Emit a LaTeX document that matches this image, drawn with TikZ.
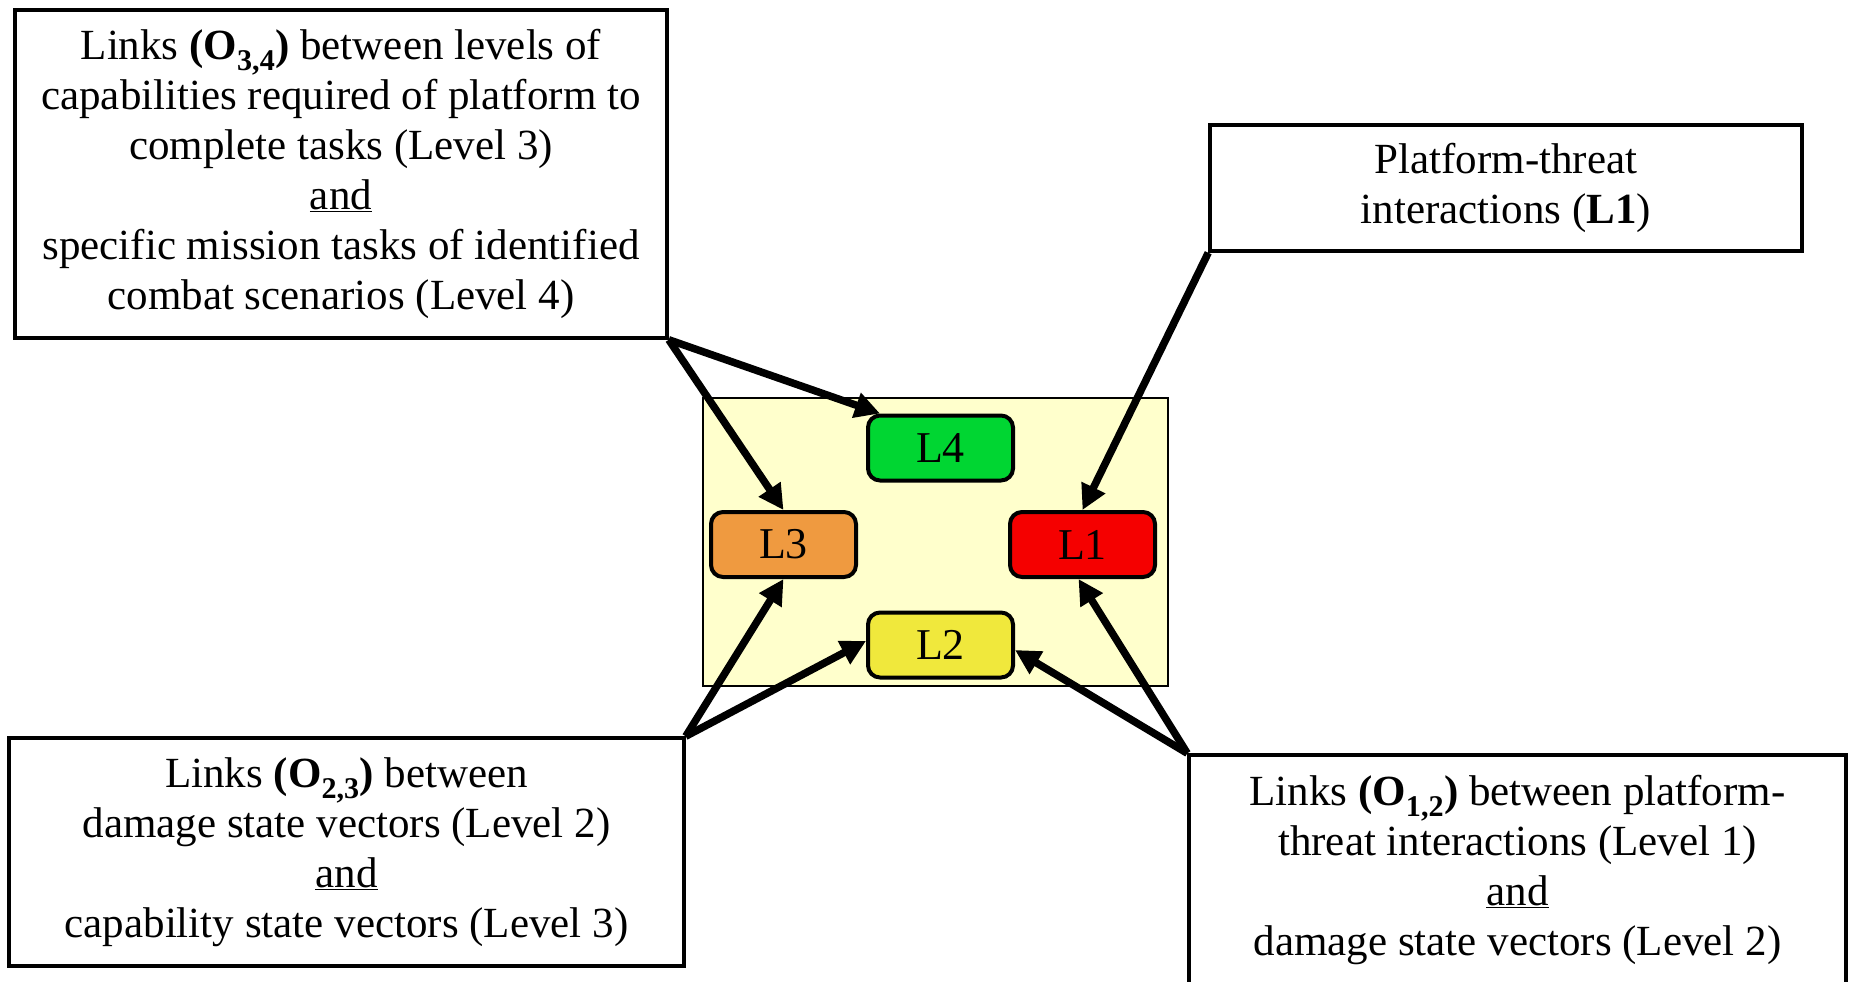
\documentclass[tikz,border=0pt]{standalone}
\usepackage{fontspec}
\setmainfont{Liberation Serif}
\usetikzlibrary{arrows.meta,calc}
\definecolor{bgyellow}{RGB}{255,255,204}
\definecolor{lvgreen}{RGB}{0,214,50}
\definecolor{lvorange}{RGB}{239,154,64}
\definecolor{lvred}{RGB}{245,0,0}
\definecolor{lvyellow}{RGB}{240,232,60}
\begin{document}
\begin{tikzpicture}[x=1pt,y=-1pt,
  txtbox/.style={draw, line width=3.5pt, align=center, inner sep=0pt,
    font=\fontsize{43}{50}\selectfont},
  lvl/.style={draw, line width=4pt, rounded corners=12pt, minimum width=145pt,
    minimum height=65pt, inner sep=0pt, font=\fontsize{44}{50}\selectfont},
  link/.style={line width=7.5pt, -{Triangle[length=25pt,width=25pt]}}]
\useasboundingbox (0,0) rectangle (1849,982);
\clip (0,0) rectangle (1849,982);

% background panel
\node[draw, line width=1.5pt, fill=bgyellow, minimum width=465pt, minimum height=288pt, inner sep=0pt] (bg) at (935.5,542) {};

% level boxes
\node[lvl, fill=lvgreen]  (L4) at (940.5,448)   {L4};
\node[lvl, fill=lvorange] (L3) at (783.5,544.5) {L3};
\node[lvl, fill=lvred]    (L1) at (1082.5,544.5) {L1};
\node[lvl, fill=lvyellow] (L2) at (940.5,645)   {L2};

% text boxes
\node[txtbox, minimum width=652pt, minimum height=328pt] (tl) at (341,174) {%
Links \textbf{(O\textsubscript{3,4})} between levels of\\
capabilities required of platform to\\
complete tasks (Level 3)\\
\underline{and}\\
specific mission tasks of identified\\
combat scenarios (Level 4)};

\node[txtbox, minimum width=592pt, minimum height=126pt] (tr) at (1506,188) {%
Platform-threat\\
interactions (\textbf{L1})};

\node[txtbox, minimum width=675pt, minimum height=228pt] (bl) at (346.5,852) {%
Links \textbf{(O\textsubscript{2,3})} between\\
damage state vectors (Level 2)\\
\underline{and}\\
capability state vectors (Level 3)};

\node[txtbox, minimum width=657pt, minimum height=230pt] (br) at (1517.5,870) {%
Links \textbf{(O\textsubscript{1,2})} between platform-\\
threat interactions (Level 1)\\
\underline{and}\\
damage state vectors (Level 2)};

% connectors
\draw[link] (tl.south east) -- ([xshift=14pt]L4.north west);
\draw[link] (tl.south east) -- (L3.north);
\draw[link] (tr.south west) -- (L1.north);
\draw[link] (bl.north east) -- (L3.south);
\draw[link] (bl.north east) -- ([yshift=4pt]L2.west);
\draw[link] (br.north west) -- ([yshift=-5pt]L2.east);
\draw[link] (br.north west) -- ([xshift=-4pt]L1.south);
\end{tikzpicture}
\end{document}
